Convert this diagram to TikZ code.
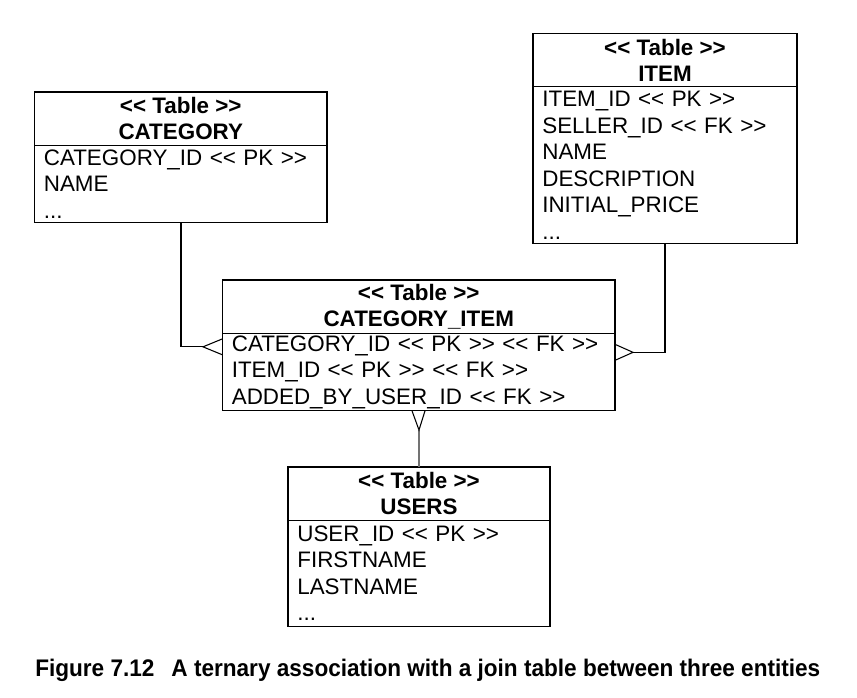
\documentclass[tikz,border=0pt]{standalone}
\usepackage{fontspec}
\setmainfont{Liberation Sans}
\usetikzlibrary{calc}
\newcommand{\stl}{{<}{<}}
\newcommand{\stg}{{>}{>}}

\begin{document}
\begin{tikzpicture}[x=0.75pt,y=-0.75pt,
    tablehead/.style={draw,line width=0.9pt,anchor=north west,inner sep=0pt,outer sep=0pt,
      minimum height=40pt,align=center,font=\fontsize{16.8}{19.6}\selectfont\bfseries},
    tablebody/.style={draw,line width=0.9pt,anchor=north west,inner xsep=7pt,inner ysep=0pt,
      outer sep=0pt,align=left,font=\fontsize{16.8}{19.9}\selectfont},
    link/.style={line width=0.8pt}]
  \useasboundingbox (0,0) rectangle (857,697);
  % tables
  \node[tablehead,minimum width=219.4pt](category)at(34.5,92){\stl{} Table \stg\\CATEGORY};
  \node[tablebody,minimum height=57.75pt,text width=205.4pt](categoryattr)at(category.south west)
    {CATEGORY\_ID \stl{} PK \stg\\NAME\\...};
  \node[tablehead,minimum width=198pt](item)at(533,33.5){\stl{} Table \stg\\ITEM};
  \node[tablebody,minimum height=117.75pt,text width=184pt](itemattr)at(item.south west)
    {ITEM\_ID \stl{} PK \stg\\SELLER\_ID \stl{} FK \stg\\NAME\\DESCRIPTION\\INITIAL\_PRICE\\...};
  \node[tablehead,minimum width=294.4pt](catitem)at(222.5,280){\stl{} Table \stg\\CATEGORY\_ITEM};
  \node[tablebody,minimum height=58.1pt,text width=280.4pt](catitemattr)at(catitem.south west)
    {CATEGORY\_ID \stl{} PK \stg{} \stl{} FK \stg\\ITEM\_ID \stl{} PK \stg{} \stl{} FK \stg\\ADDED\_BY\_USER\_ID \stl{} FK \stg};
  \node[tablehead,minimum width=196.5pt](users)at(288,467){\stl{} Table \stg\\USERS};
  \node[tablebody,minimum height=79.5pt,text width=182.5pt](usersattr)at(users.south west)
    {USER\_ID \stl{} PK \stg\\FIRSTNAME\\LASTNAME\\...};
  % crow feet apexes
  \coordinate(catfoot)at($(catitemattr.north west)+(-19.5,13.5)$);
  \coordinate(itemfoot)at($(catitemattr.north east)+(18,19)$);
  \coordinate(userfoot)at(419,430);
  % connectors
  \draw[link](categoryattr.south west)++(146.5,0)|-(catfoot);
  \draw[link]($(catitemattr.west|-catfoot)+(0,-8)$)--(catfoot)--($(catitemattr.west|-catfoot)+(0,8)$);
  \draw[link](itemattr.south west)++(132,0)|-(itemfoot);
  \draw[link]($(catitemattr.east|-itemfoot)+(0,-8)$)--(itemfoot)--($(catitemattr.east|-itemfoot)+(0,8)$);
  \draw[link,black!55](users.north-|userfoot)--(userfoot);
  \draw[link]($(catitemattr.south-|userfoot)+(-7,0)$)--(userfoot)--($(catitemattr.south-|userfoot)+(6,0)$);
  % caption
  \node[anchor=west,inner sep=0pt,font=\fontsize{18}{21}\selectfont\bfseries](caption)at(35,670)
    {\scalebox{0.941}[1]{Figure 7.12\hspace{0.75em}A ternary association with a join table between three entities}};
\end{tikzpicture}
\end{document}
